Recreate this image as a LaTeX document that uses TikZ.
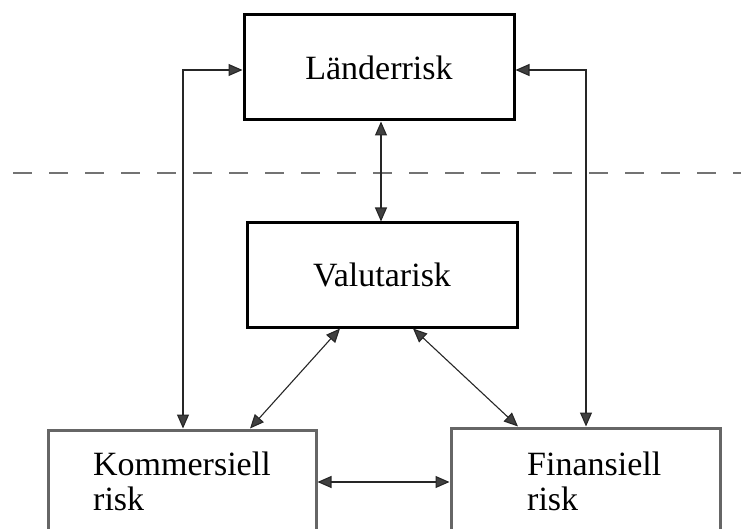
\documentclass[tikz,border=0pt]{standalone}
\usepackage{fontspec}
\setmainfont{Liberation Serif}
\usetikzlibrary{arrows.meta}
\begin{document}
\begin{tikzpicture}[x=1pt,y=-1pt,
  riskbox/.style={draw=black, line width=3pt, rectangle, inner sep=0pt,
    font=\fontsize{34}{35}\selectfont},
  lowbox/.style={riskbox, draw=black!60},
  txt/.style={font=\fontsize{34}{35}\selectfont, inner sep=0pt, align=left},
  link/.style={draw=black!85, line width=1.1pt,
    {Triangle[length=14pt,width=12pt,fill=black!75]}-{Triangle[length=14pt,width=12pt,fill=black!75]}},
  divider/.style={draw=black!55, line width=1.6pt, dash pattern=on 19pt off 17pt},
]
\useasboundingbox (0,0) rectangle (741,529);
\clip (0,0) rectangle (741,529);

% helper coordinates for connector routes
\coordinate (lx) at (183,0);
\coordinate (rx) at (586,0);
\coordinate (cx) at (381,0);
\coordinate (d1) at (340,0);
\coordinate (d2) at (250,0);
\coordinate (d3) at (413,0);
\coordinate (d4) at (518,0);
\coordinate (hy) at (0,482);
\coordinate (dl) at (13,173);
\coordinate (dr) at (741,173);

% dashed divider
\draw[divider] (dl) -- (dr);

% boxes
\node[riskbox, minimum width=270pt, minimum height=105pt] (land) at (379,67.5) {Länderrisk};
\node[riskbox, minimum width=270pt, minimum height=104pt] (val) at (382,275) {Valutarisk};
\node[lowbox, minimum width=268pt, minimum height=130pt] (komm) at (182,495) {};
\node[lowbox, minimum width=269pt, minimum height=130pt] (fin) at (585.5,493) {};

% texts of the lower boxes (base = baseline of the last line)
\node[txt, anchor=base west] (kommtext) at (93,510) {Kommersiell\\risk};
\node[txt, anchor=base west] (fintext) at (527,510) {Finansiell\\risk};

% connectors
\draw[link] ([yshift=-2.5pt]land.west) -| (komm.north -| lx);
\draw[link] ([yshift=-2.5pt]land.east) -| (fin.north -| rx);
\draw[link] (land.south -| cx) -- (val.north -| cx);
\draw[link] (val.south -| d1) -- (komm.north -| d2);
\draw[link] (val.south -| d3) -- (fin.north -| d4);
\draw[link] (komm.east |- hy) -- (fin.west |- hy);
\end{tikzpicture}
\end{document}
